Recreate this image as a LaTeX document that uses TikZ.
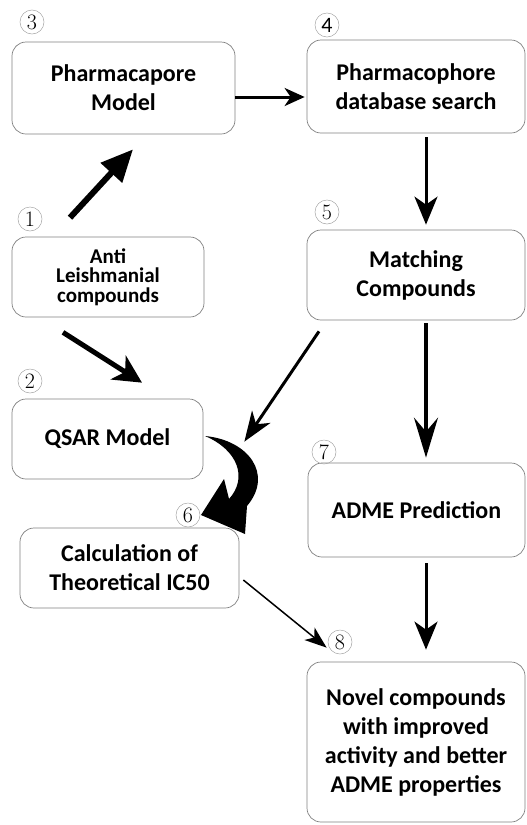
\documentclass[tikz,border=0pt]{standalone}
\usepackage{fontspec}
\newfontfamily\carl{Carlito}
\usetikzlibrary{arrows.meta}
\tikzset{
  box/.style={draw=black!50, line width=0.7pt, rounded corners=14pt, align=center,
    font=\carl\bfseries\fontsize{24}{29}\selectfont, inner sep=0pt},
  num/.style={circle, draw=black!35, line width=0.5pt, minimum size=24pt, inner sep=0pt,
    font=\fontsize{22}{22}\selectfont},
  conn/.style={line width=3pt, -{Stealth[length=28pt,width=23pt,inset=8pt]}},
}
\begin{document}
\begin{tikzpicture}[x=1pt,y=-1pt]
\useasboundingbox (0,0) rectangle (527,825);
% boxes
\node[box, minimum width=223pt, minimum height=92pt] (b3) at (123.5,88) {Pharmacapore\\Model};
\node[box, minimum width=218pt, minimum height=93pt] (b4) at (416,86.5) {Pharmacophore\\database search};
\node[box, minimum width=192pt, minimum height=80pt, font=\carl\bfseries\fontsize{21}{19.5}\selectfont] (b1) at (108,277) {Anti\\Leishmanial\\compounds};
\node[box, minimum width=218pt, minimum height=90pt] (b5) at (416,275) {Matching\\Compounds};
\node[box, minimum width=191pt, minimum height=80pt] (b2) at (107.5,439) {QSAR Model};
\node[box, minimum width=217pt, minimum height=94pt] (b7) at (416.5,510) {ADME Prediction};
\node[box, minimum width=219pt, minimum height=80pt] (b6) at (129.5,568) {Calculation of\\Theoretical IC50};
\node[box, minimum width=218pt, minimum height=160pt] (b8) at (416,742) {Novel compounds\\with improved\\activity and better\\ADME properties};
% numbers
\node[num] (n3) at (32,22) {3};
\node[num, font=\carl\fontsize{22}{22}\selectfont] (n4) at (327,25) {4};
\node[num] (n1) at (30,219) {1};
\node[num] (n5) at (327,212) {5};
\node[num] (n2) at (30,381) {2};
\node[num] (n7) at (324,452) {7};
\node[num] (n6) at (188,515) {6};
\node[num] (n8) at (340,642) {8};
% connectors
\draw[conn, -{Stealth[length=20pt,width=18pt,inset=6pt]}] ([yshift=-9pt]b3.east) -- ([yshift=-10.5pt,xshift=-2pt]b4.west);
\draw[line width=6pt, -{Triangle[length=32pt,width=28pt]}] ([xshift=-38pt,yshift=19pt]b1.north) -- ([xshift=9.5pt,yshift=-15pt]b3.south);
\draw[line width=5pt, -{Stealth[length=28pt,width=28pt,inset=8pt]}] ([xshift=-45pt,yshift=-15pt]b1.south) -- ([xshift=34.5pt,yshift=16pt]b2.north);
\draw[conn] ([xshift=10pt,yshift=-4pt]b4.south) -- ([xshift=10pt,yshift=5pt]b5.north);
\draw[conn, -{Stealth[length=30pt,width=22pt,inset=9pt]}] ([xshift=-97pt,yshift=-11pt]b5.south) -- ([xshift=5pt,yshift=86pt]b6.north east);
\draw[line width=3.5pt, -{Stealth[length=40pt,width=24pt,inset=14pt]}] ([xshift=10pt,yshift=-3pt]b5.south) -- ([xshift=9.5pt,yshift=5pt]b7.north);
\draw[conn] ([xshift=9.5pt,yshift=-6pt]b7.south) -- ([xshift=10pt,yshift=12pt]b8.north);
\draw[line width=1.5pt, -{Stealth[length=22pt,width=16pt,inset=6pt]}] ([xshift=4pt,yshift=-12pt]b6.east) -- ([xshift=20pt,yshift=14pt]b8.north west);
% big curved arrow from QSAR to calculation
\fill (205,436) .. controls (248,440) and (274,474) .. (247,506)
  -- (245,534) -- (201,515) -- (224,479) -- (229,499)
  .. controls (248,478) and (238,450) .. (205,436) -- cycle;
\end{tikzpicture}
\end{document}
